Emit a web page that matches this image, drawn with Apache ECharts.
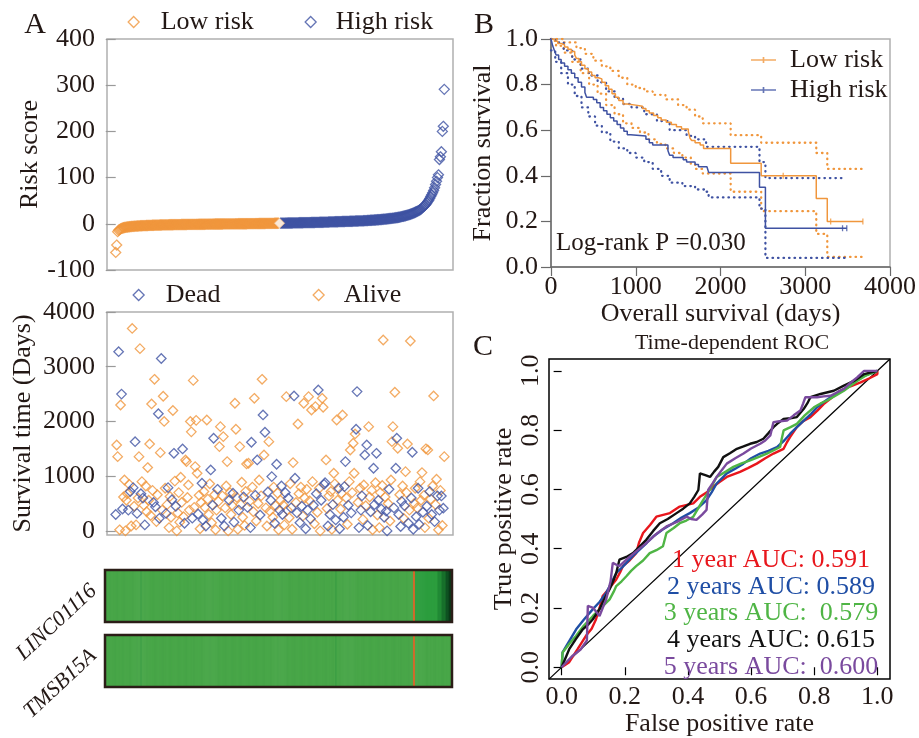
<!DOCTYPE html>
<html>
<head>
<meta charset="utf-8">
<script src="https://cdn.jsdelivr.net/npm/echarts@6/dist/echarts.min.js"></script>
<style>
html, body { margin: 0; padding: 0; background: #ffffff; }
#chart { width: 919px; height: 738px; }
</style>
</head>
<body>
<div id="chart"></div>
<script>
// ---------- data ----------
// Risk score of each patient, ranked from lowest to highest
const riskLow = [
  -62, -46, -17, -14, -12.5, -11, -10, -9.2, -8.6, -8, -7.6, -7.2, -6.9, -6.6, -6.3, -6.1, -5.9, -5.7, -5.5, -5.3,
  -5.1, -5.0, -4.8, -4.7, -4.6, -4.4, -4.3, -4.2, -4.1, -4.0, -3.9, -3.8, -3.7, -3.6, -3.5, -3.4, -3.4, -3.3, -3.2, -3.1,
  -3.0, -3.0, -2.9, -2.8, -2.8, -2.7, -2.6, -2.6, -2.5, -2.5, -2.4, -2.4, -2.3, -2.3, -2.2, -2.2, -2.1, -2.1, -2.0, -2.0,
  -1.9, -1.9, -1.9, -1.8, -1.8, -1.7, -1.7, -1.7, -1.6, -1.6, -1.6, -1.5, -1.5, -1.5, -1.4, -1.4, -1.4, -1.3, -1.3, -1.3,
  -1.2, -1.2, -1.2, -1.1, -1.1, -1.1, -1.0, -1.0, -1.0, -0.9, -0.9, -0.9, -0.9, -0.8, -0.8, -0.8, -0.7, -0.7, -0.7, -0.7,
  -0.6, -0.6, -0.6, -0.5, -0.5, -0.5, -0.5, -0.4, -0.4, -0.4, -0.4, -0.3, -0.3, -0.3, -0.3, -0.2, -0.2, -0.2, -0.2, -0.1,
  -0.1, -0.1, -0.1, 0.0, 0.0, 0.0, 0.0, 0.1, 0.1, 0.1, 0.1, 0.1, 0.2, 0.2, 0.2, 0.2, 0.3, 0.3, 0.3, 0.3,
  0.4, 0.4, 0.4, 0.4, 0.5, 0.5, 0.5, 0.5, 0.6, 0.6, 0.6, 0.6, 0.7, 0.7, 0.7, 0.8, 0.8, 0.8, 0.9, 0.9,
  0.9, 1.0, 1.0, 1.0, 1.1, 1.1, 1.2, 1.2, 1.3, 1.3
];
const riskHigh = [
  1.4, 1.4, 1.5, 1.5, 1.5, 1.6, 1.6, 1.6, 1.7, 1.7, 1.8, 1.8, 1.8, 1.9, 1.9, 2.0, 2.0, 2.0, 2.1, 2.1,
  2.2, 2.2, 2.3, 2.3, 2.4, 2.4, 2.5, 2.5, 2.6, 2.6, 2.7, 2.7, 2.8, 2.8, 2.9, 2.9, 3.0, 3.0, 3.1, 3.1,
  3.2, 3.3, 3.3, 3.4, 3.4, 3.5, 3.6, 3.6, 3.7, 3.8, 3.9,
  4.0, 4.1, 4.1, 4.2, 4.3, 4.3, 4.4, 4.5, 4.5, 4.6, 4.7, 4.7, 4.8, 4.9, 5.0, 5.0, 5.1, 5.2, 5.3, 5.3,
  5.4, 5.5, 5.6, 5.6, 5.7, 5.8, 5.9, 6.0, 6.0, 6.1, 6.2, 6.3, 6.3, 6.4, 6.5,
  6.6, 6.8, 6.9, 7.0, 7.2, 7.3, 7.4, 7.6, 7.7, 7.9, 8.0, 8.2, 8.3, 8.5, 8.7, 8.8, 9.0, 9.2, 9.4, 9.6,
  9.8, 10.0, 10.2, 10.4, 10.6, 10.9, 11.1, 11.4, 11.6, 11.9, 12.2, 12.4, 12.7, 13.0, 13.3,
  13.7, 14.1, 14.5, 15.0, 15.4, 15.9, 16.4, 17.0, 17.5, 18.1, 18.7, 19.4, 20.0, 20.7, 21.5, 22.3, 23.1, 24.0, 25.0, 26.0,
  27.0, 28.1, 29.2, 30.4,
  32, 34, 36, 38, 40, 42, 45, 48,
  51, 55, 59, 63, 67, 72, 78, 85, 92, 100,
  106, 139, 145, 156, 200, 211, 291
];

// Follow-up time (days) and vital status (1 = dead, 0 = alive), same patient order
const survivalDays = [
  300, 1570, 1357, 3275, 20, 2300, 2500, 400, 620, 930,
  0, 560, 680, 380, 850, 720, 90, 3700, 790, 450,
  1630, 110, 320, 600, 1357, 3330, 680, 900, 600, 470,
  110, 820, 350, 1157, 560, 1589, 280, 2320, 740, 520,
  2770, 440, 170, 660, 2140, 230, 1430, 3150, 380, 2460,
  2000, 780, 320, 480, 790, 60, 630, 250, 570, 2200,
  1418, 910, 450, 0, 330, 700, 160, 980, 520, 1498,
  260, 140, 1297, 1266, 610, 840, 380, 2000, 1810, 232,
  2750, 430, 1175, 2020, 1053, 310, 650, 40, 520, 870,
  200, 720, 430, 90, 2027, 580, 300, 860, 1114, 150,
  470, 1693, 660, 20, 380, 760, 540, 1540, 1905, 230,
  640, 1723, 90, 420, 820, 1266, 0, 560, 700, 300,
  470, 688, 160, 2332, 1857, 610, 30, 380, 1540, 480,
  890, 250, 620, 100, 720, 1224, 430, 1236, 540, 60,
  1620, 800, 350, 2423, 650, 180, 1297, 500, 930, 290,
  640, 2770, 2119, 1388, 1803, 420, 90, 710, 1631, 360,
  560, 992, 250, 800, 140, 460, 1218, 690, 20, 380,
  560, 820, 300, 470, 110, 700, 2453, 380, 600, 240,
  860, 420, 30, 1248, 2466, 962, 520, 330, 1954, 680,
  150, 800, 450, 270, 2332, 600, 40, 760, 380, 2453,
  550, 220, 2210, 900, 470, 130, 2271, 680, 340, 2575,
  780, 0, 560, 2423, 2259, 850, 880, 1297, 410, 90,
  640, 300, 720, 30, 480, 1053, 860, 200, 2027, 560,
  780, 40, 400, 690, 2119, 250, 809, 1266, 600, 120,
  470, 900, 1479, 330, 700, 1602, 1053, 1772, 1857, 2545,
  520, 60, 780, 380, 640, 210, 840, 1388, 460, 1571,
  100, 1905, 620, 350, 740, 20, 1145, 480, 880, 1418,
  290, 560, 60, 700, 400, 830, 3489, 250, 620, 360,
  0, 500, 760, 180, 930, 1631, 1905, 420, 2533, 1145,
  1693, 1510, 300, 660, 80, 540, 820, 230, 460, 1083,
  700, 1589, 140, 380, 3470, 600, 1437, 30, 500, 780,
  260, 420, 780, 120, 900, 560, 1065, 340, 650, 60,
  1500, 450, 1480, 230, 720, 580, 300, 820, 2466, 170,
  480, 944, 640, 20, 380, 740, 639, 100, 415, 1357
];
const vitalStatus = [
  1, 0, 0, 1, 0, 0, 1, 1, 0, 0,
  0, 0, 0, 1, 0, 1, 0, 0, 1, 0,
  1, 0, 1, 0, 0, 0, 1, 0, 1, 0,
  1, 0, 0, 0, 0, 0, 0, 0, 0, 1,
  0, 1, 0, 0, 1, 1, 0, 1, 0, 0,
  0, 0, 1, 0, 1, 0, 0, 0, 1, 0,
  1, 0, 1, 0, 0, 0, 0, 0, 0, 1,
  0, 1, 0, 0, 0, 0, 0, 0, 0, 1,
  0, 0, 0, 0, 0, 1, 0, 0, 0, 1,
  1, 0, 0, 1, 0, 0, 0, 0, 1, 0,
  1, 1, 0, 0, 0, 1, 0, 0, 0, 1,
  0, 0, 1, 0, 0, 0, 0, 1, 0, 0,
  0, 1, 1, 0, 0, 0, 0, 1, 0, 0,
  0, 0, 1, 0, 0, 0, 1, 0, 0, 1,
  1, 0, 0, 0, 1, 0, 1, 0, 0, 1,
  0, 0, 1, 0, 1, 0, 0, 1, 0, 0,
  1, 1, 0, 0, 1, 0, 1, 0, 0, 1,
  0, 1, 1, 0, 0, 1, 0, 0, 1, 0,
  0, 1, 0, 0, 1, 1, 0, 1, 0, 0,
  1, 0, 1, 0, 0, 0, 1, 0, 1, 0,
  0, 1, 0, 0, 1, 0, 0, 1, 0, 1,
  0, 0, 1, 0, 0, 1, 1, 0, 0, 1,
  0, 1, 0, 0, 1, 0, 0, 1, 0, 0,
  1, 1, 0, 0, 0, 1, 1, 1, 0, 0,
  1, 0, 0, 1, 0, 0, 0, 0, 1, 1,
  0, 1, 0, 1, 1, 0, 0, 1, 0, 1,
  1, 0, 0, 1, 0, 0, 1, 1, 0, 1,
  0, 1, 0, 0, 1, 0, 0, 1, 0, 1,
  1, 0, 1, 0, 0, 0, 0, 1, 0, 1,
  1, 0, 1, 0, 1, 1, 0, 0, 1, 0,
  0, 0, 1, 0, 0, 1, 1, 1, 0, 0,
  1, 0, 1, 1, 0, 0, 0, 1, 0, 0,
  0, 1, 0, 0, 1, 0, 1, 0, 0, 1,
  0, 0, 1, 0, 1, 0, 1, 0, 1, 0
];

// Expression level bins per patient (same order), 10 marks the outlier column
const geneNames = ['LINC01116', 'TMSB15A'];
const linc01116Level = [
  3,2,2,3,2,2,1,2,2,2,3,2,2,2,1,2,2,3,2,2,
  2,2,1,2,2,2,3,2,2,2,2,2,1,2,4,2,2,2,3,2,
  2,1,2,2,2,2,3,2,2,2,1,2,2,2,2,3,2,2,1,2,
  2,2,2,3,2,2,2,1,2,2,2,2,3,2,2,1,2,2,2,2,
  3,2,2,2,2,1,2,2,3,2,2,2,2,2,1,2,2,3,2,2,
  2,1,2,2,2,3,2,2,2,2,1,2,2,2,3,2,2,2,1,2,
  2,2,3,2,2,1,2,2,2,2,3,2,2,2,2,1,2,2,3,2,
  2,2,2,1,2,2,3,2,2,2,2,2,1,2,2,3,2,2,2,2,
  1,2,2,2,3,2,2,2,2,1,2,2,2,3,2,2,2,2,1,2,
  2,3,2,2,2,2,1,2,2,2,3,2,2,2,2,1,2,2,3,2,
  2,2,1,2,2,3,2,2,2,2,1,2,2,2,3,2,2,1,2,2,
  2,2,3,2,2,2,4,2,2,1,2,2,2,3,2,2,2,1,2,2,
  3,2,2,2,1,2,2,2,3,2,2,2,2,1,2,2,3,2,2,2,
  2,1,2,2,3,2,2,2,2,1,2,2,3,2,2,2,2,1,2,2,
  3,2,2,2,1,2,2,3,2,2,2,2,1,2,2,2,3,2,2,2,
  1,2,2,10,5,5,5,5,5,5,5,5,5,5,5,5,5,5,5,5,
  5,5,5,5,5,5,5,6,6,6,6,7,7,7,7,8,8,8,9,9
];
const tmsb15aLevel = [
  2,2,3,2,2,1,2,2,3,2,2,2,1,2,2,2,3,2,2,1,
  2,2,2,3,2,2,1,2,2,2,3,2,2,2,4,2,1,2,2,2,
  3,2,2,2,1,2,2,2,3,2,2,1,2,2,2,3,2,2,2,2,
  1,2,2,3,2,2,2,2,1,2,2,3,2,2,2,1,2,2,3,2,
  2,2,1,2,2,2,3,2,2,2,2,1,2,2,3,2,2,2,2,1,
  2,2,3,2,2,2,1,2,2,2,3,2,2,1,2,2,2,3,2,2,
  2,1,2,2,3,2,2,2,2,1,2,2,3,2,2,2,1,2,2,2,
  3,2,2,1,2,2,2,3,2,2,2,2,1,2,2,3,2,2,2,1,
  2,2,3,2,2,2,1,2,2,3,2,2,2,2,1,2,2,2,3,2,
  2,1,2,2,2,3,2,2,2,1,2,2,3,2,2,2,2,1,2,2,
  3,2,2,2,1,2,2,3,2,2,2,2,1,2,2,2,3,2,2,1,
  2,2,2,3,2,2,4,1,2,2,3,2,2,2,1,2,2,2,3,2,
  2,2,1,2,2,3,2,2,2,2,1,2,2,3,2,2,2,1,2,2,
  3,2,2,2,1,2,2,2,3,2,2,1,2,2,2,3,2,2,2,2,
  1,2,2,3,2,2,2,1,2,2,3,2,2,2,2,1,2,2,3,2,
  2,2,1,10,2,1,2,2,3,2,1,2,2,1,2,2,3,2,1,2,
  2,1,2,2,3,2,1,2,2,1,2,3,2,2,1,2,2,1,2,2
];

// Kaplan-Meier estimates [days, survival] with 95% confidence bands
const kmLow = [[0,1.0],[40,0.99],[80,0.98],[120,0.975],[160,0.965],[200,0.955],[240,0.945],[280,0.93],[300,0.915],[330,0.9],[360,0.885],[400,0.87],[440,0.855],[480,0.84],[520,0.83],[560,0.825],[600,0.81],[640,0.795],[680,0.78],[720,0.76],[760,0.745],[800,0.73],[850,0.715],[900,0.71],[1000,0.705],[1080,0.695],[1120,0.685],[1160,0.675],[1210,0.665],[1260,0.655],[1300,0.645],[1360,0.635],[1420,0.625],[1480,0.615],[1540,0.605],[1620,0.595],[1640,0.565],[1660,0.555],[1700,0.545],[1760,0.535],[1800,0.52],[2120,0.455],[2480,0.40],[3130,0.30],[3260,0.20],[3680,0.20]];
const kmLowUpper = [[0,1.0],[150,0.985],[300,0.96],[400,0.935],[500,0.905],[600,0.88],[700,0.86],[800,0.83],[900,0.80],[1000,0.785],[1100,0.77],[1200,0.755],[1350,0.735],[1500,0.71],[1600,0.69],[1700,0.66],[1790,0.63],[2120,0.578],[2480,0.545],[3130,0.50],[3260,0.43],[3680,0.43]];
const kmLowLower = [[0,1.0],[60,0.97],[150,0.94],[250,0.9],[350,0.85],[450,0.8],[550,0.76],[650,0.71],[750,0.67],[850,0.63],[950,0.61],[1050,0.59],[1150,0.56],[1250,0.54],[1350,0.52],[1450,0.5],[1550,0.48],[1650,0.45],[1700,0.43],[1790,0.41],[2120,0.33],[2480,0.245],[3130,0.145],[3260,0.044],[3680,0.044]];
const kmHigh = [[0,1.0],[20,0.97],[40,0.95],[60,0.93],[90,0.91],[120,0.895],[160,0.88],[200,0.865],[240,0.85],[280,0.83],[320,0.81],[360,0.79],[400,0.765],[420,0.745],[500,0.735],[540,0.72],[580,0.70],[620,0.685],[660,0.67],[700,0.655],[740,0.64],[780,0.625],[820,0.61],[860,0.595],[900,0.58],[940,0.575],[1120,0.56],[1160,0.545],[1200,0.535],[1380,0.51],[1400,0.49],[1440,0.48],[1560,0.47],[1600,0.46],[1700,0.45],[1740,0.44],[1840,0.435],[1860,0.415],[2460,0.35],[2530,0.17],[3490,0.17]];
const kmHighUpper = [[0,1.0],[50,0.985],[150,0.95],[250,0.91],[350,0.87],[450,0.84],[550,0.81],[650,0.77],[750,0.74],[850,0.715],[950,0.70],[1100,0.67],[1250,0.64],[1400,0.60],[1600,0.575],[1700,0.56],[1830,0.527],[2460,0.46],[2530,0.39],[3430,0.39]];
const kmHighLower = [[0,0.95],[50,0.9],[120,0.85],[200,0.8],[280,0.75],[360,0.7],[440,0.66],[520,0.62],[600,0.59],[700,0.55],[800,0.52],[900,0.5],[1000,0.48],[1100,0.46],[1200,0.43],[1300,0.4],[1400,0.37],[1550,0.355],[1700,0.34],[1830,0.33],[1860,0.305],[2460,0.256],[2530,0.04],[3480,0.04]];
const kmLowCensor = [[2740,0.40],[3300,0.20],[3680,0.20]];
const kmHighCensor = [[3440,0.17],[3490,0.17]];
const logRankText = 'Log-rank P =0.030';

// Time-dependent ROC curves [false positive rate, true positive rate]
const roc1Year = [[0,0],[0.024,0.017],[0.05,0.06],[0.077,0.106],[0.095,0.13],[0.109,0.162],[0.12,0.2],[0.13,0.24],[0.15,0.265],[0.173,0.296],[0.185,0.32],[0.194,0.341],[0.215,0.36],[0.236,0.385],[0.245,0.42],[0.258,0.453],[0.28,0.48],[0.3,0.508],[0.343,0.52],[0.374,0.542],[0.417,0.553],[0.438,0.575],[0.46,0.59],[0.48,0.609],[0.5,0.625],[0.523,0.642],[0.565,0.659],[0.59,0.672],[0.618,0.687],[0.645,0.705],[0.671,0.721],[0.703,0.737],[0.714,0.76],[0.724,0.777],[0.745,0.81],[0.765,0.83],[0.788,0.844],[0.81,0.866],[0.83,0.888],[0.856,0.91],[0.883,0.933],[0.915,0.948],[0.947,0.961],[0.975,0.975],[1,0.989],[1,1]];
const roc2Years = [[0,0],[0.003,0.05],[0.025,0.09],[0.046,0.128],[0.07,0.16],[0.099,0.196],[0.12,0.22],[0.141,0.251],[0.16,0.29],[0.173,0.318],[0.19,0.335],[0.205,0.352],[0.225,0.375],[0.247,0.397],[0.27,0.42],[0.29,0.441],[0.32,0.465],[0.353,0.486],[0.38,0.505],[0.406,0.52],[0.435,0.54],[0.459,0.564],[0.475,0.59],[0.491,0.62],[0.523,0.654],[0.55,0.67],[0.576,0.687],[0.6,0.705],[0.629,0.721],[0.655,0.73],[0.682,0.743],[0.705,0.765],[0.724,0.788],[0.745,0.81],[0.767,0.832],[0.79,0.855],[0.809,0.877],[0.83,0.895],[0.852,0.911],[0.88,0.93],[0.904,0.944],[0.925,0.96],[0.947,0.978],[0.975,0.99],[1,1]];
const roc3Years = [[0,0],[0.003,0.05],[0.025,0.08],[0.046,0.106],[0.07,0.14],[0.099,0.173],[0.125,0.2],[0.152,0.229],[0.165,0.255],[0.173,0.274],[0.19,0.29],[0.205,0.307],[0.22,0.325],[0.236,0.341],[0.258,0.36],[0.279,0.385],[0.3,0.395],[0.321,0.408],[0.332,0.453],[0.355,0.47],[0.374,0.486],[0.395,0.495],[0.417,0.508],[0.432,0.535],[0.448,0.564],[0.47,0.6],[0.491,0.642],[0.52,0.66],[0.544,0.676],[0.57,0.688],[0.597,0.698],[0.625,0.71],[0.65,0.721],[0.672,0.732],[0.692,0.743],[0.697,0.77],[0.703,0.799],[0.725,0.81],[0.745,0.821],[0.77,0.85],[0.799,0.877],[0.82,0.89],[0.841,0.9],[0.87,0.918],[0.894,0.933],[0.915,0.95],[0.936,0.966],[0.965,0.985],[1,1]];
const roc4Years = [[0,0],[0.024,0.061],[0.045,0.095],[0.067,0.128],[0.085,0.145],[0.099,0.162],[0.12,0.196],[0.135,0.23],[0.152,0.263],[0.163,0.29],[0.173,0.318],[0.183,0.363],[0.205,0.372],[0.226,0.385],[0.245,0.405],[0.268,0.43],[0.29,0.46],[0.311,0.486],[0.336,0.5],[0.364,0.52],[0.385,0.535],[0.406,0.553],[0.42,0.575],[0.433,0.598],[0.436,0.63],[0.438,0.654],[0.455,0.648],[0.47,0.642],[0.483,0.66],[0.496,0.676],[0.512,0.709],[0.533,0.722],[0.555,0.737],[0.576,0.745],[0.597,0.754],[0.618,0.76],[0.639,0.771],[0.655,0.79],[0.671,0.81],[0.687,0.825],[0.703,0.838],[0.724,0.84],[0.745,0.844],[0.767,0.872],[0.778,0.89],[0.788,0.911],[0.82,0.922],[0.862,0.933],[0.894,0.95],[0.926,0.966],[0.958,0.989],[0.98,0.995],[1,1]];
const roc5Years = [[0,0],[0.035,0.039],[0.06,0.06],[0.08,0.09],[0.083,0.207],[0.1,0.2],[0.12,0.173],[0.13,0.2],[0.141,0.229],[0.155,0.29],[0.162,0.352],[0.175,0.345],[0.183,0.341],[0.205,0.363],[0.235,0.39],[0.268,0.419],[0.3,0.45],[0.332,0.475],[0.365,0.49],[0.396,0.508],[0.41,0.5],[0.427,0.497],[0.445,0.515],[0.459,0.531],[0.464,0.598],[0.478,0.62],[0.491,0.642],[0.507,0.665],[0.523,0.687],[0.55,0.705],[0.576,0.721],[0.6,0.738],[0.629,0.754],[0.645,0.765],[0.661,0.782],[0.666,0.805],[0.671,0.827],[0.69,0.83],[0.714,0.832],[0.735,0.85],[0.756,0.866],[0.765,0.89],[0.772,0.911],[0.79,0.911],[0.809,0.911],[0.83,0.914],[0.852,0.916],[0.873,0.928],[0.894,0.939],[0.915,0.96],[0.936,0.978],[0.958,1.0],[1,1]];
const rocLabels = ['1 year AUC: 0.591', '2 years AUC: 0.589', '3 years AUC:  0.579', '4 years AUC: 0.615', '5 years AUC:  0.600'];

// Tick labels
const survivalTicks = [0, 1000, 2000, 3000, 4000];
const rateTicks = [0, 0.2, 0.4, 0.6, 0.8, 1.0];

// ---------- styles ----------
const FONT = 'Liberation Serif';
const INK = '#231815';
const ORANGE = '#f0963c';
const BLUE = '#3f52a2';
const ROC_COLORS = ['#e8161c', '#1f4ea5', '#4fb545', '#111111', '#7a4a9e'];
const LEVEL_COLORS = {
  1: '#4ba94b', 2: '#48a648', 3: '#46a447', 4: '#3d9f44', 5: '#2c9d3e',
  6: '#218a35', 7: '#17702b', 8: '#0f5222', 9: '#0a3a18', 10: '#cf6a2c'
};
const txt = (size, extra) => Object.assign({ fontFamily: FONT, fontSize: size, color: INK }, extra || {});
const plain = v => String(v);

const nPatients = riskLow.length + riskHigh.length;
const patientIdx = [];
for (let i = 0; i < nPatients; i++) patientIdx.push(i);

// ---------- grids ----------
const grids = [
  { left: 107, top: 39, width: 346, height: 231, show: true, borderColor: '#b0b0b0', borderWidth: 1.5 },  // risk score
  { left: 107, top: 312, width: 346, height: 223, show: true, borderColor: '#b0b0b0', borderWidth: 1.5 }, // survival status
  { left: 106, top: 571, width: 345, height: 50 },  // LINC01116
  { left: 106, top: 636, width: 345, height: 50 },  // TMSB15A
  { left: 551, top: 39, width: 341, height: 228, show: true, borderColor: '#b0b0b0', borderWidth: 1.5 },  // KM
  { left: 549, top: 359, width: 341, height: 321, show: true, borderColor: '#000', borderWidth: 1.5 }    // ROC
];

const grayTick = { show: true, length: 10, lineStyle: { color: '#9a9a9a', width: 1.2 } };

const xAxes = [
  { gridIndex: 0, type: 'value', min: -9, max: 348, show: false, splitLine: { show: false } },
  { gridIndex: 1, type: 'value', min: -9, max: 348, show: false, splitLine: { show: false } },
  { gridIndex: 2, type: 'category', data: patientIdx, show: false },
  { gridIndex: 3, type: 'category', data: patientIdx, show: false },
  {
    gridIndex: 4, type: 'value', min: 0, max: 4000, interval: 1000,
    axisLine: { show: true, lineStyle: { color: '#6a6a6a', width: 1.5 } },
    axisTick: { show: true, length: 9, lineStyle: { color: '#6a6a6a', width: 1.2 } },
    axisLabel: txt(26, { margin: 7, formatter: plain }),
    splitLine: { show: false },
    name: 'Overall survival (days)', nameLocation: 'middle', nameGap: 12, nameTextStyle: txt(26)
  },
  {
    gridIndex: 5, type: 'value', min: -0.04, max: 1.04,
    axisLine: { show: false },
    axisTick: { show: true, length: 8, customValues: rateTicks, lineStyle: { color: '#000', width: 1.2 } },
    axisLabel: txt(26, { margin: 5, customValues: rateTicks, formatter: v => v.toFixed(1) }),
    splitLine: { show: false },
    name: 'False positive rate', nameLocation: 'middle', nameGap: 30, nameTextStyle: txt(26)
  }
];

const geneLabel = txt(22, { rotate: 43, fontStyle: 'italic', margin: 5, verticalAlign: 'bottom' });
const yAxes = [
  {
    gridIndex: 0, type: 'value', min: -100, max: 400, interval: 100,
    axisLine: { show: false }, axisTick: grayTick,
    axisLabel: txt(26, { margin: 12, formatter: plain }), splitLine: { show: false },
    name: 'Risk score', nameLocation: 'middle', nameGap: 57, nameTextStyle: txt(26)
  },
  {
    gridIndex: 1, type: 'value', min: -75, max: 4000,
    axisLine: { show: false },
    axisTick: Object.assign({ customValues: survivalTicks }, grayTick),
    axisLabel: txt(26, { margin: 12, customValues: survivalTicks, formatter: plain }), splitLine: { show: false },
    name: 'Survival time (Days)', nameLocation: 'middle', nameGap: 71, nameTextStyle: txt(26)
  },
  {
    gridIndex: 2, type: 'category', data: [geneNames[0]],
    axisLine: { show: false }, axisTick: { show: false }, axisLabel: geneLabel
  },
  {
    gridIndex: 3, type: 'category', data: [geneNames[1]],
    axisLine: { show: false }, axisTick: { show: false }, axisLabel: geneLabel
  },
  {
    gridIndex: 4, type: 'value', min: 0, max: 1, interval: 0.2,
    axisLine: { show: true, lineStyle: { color: '#6a6a6a', width: 1.5 } },
    axisTick: { show: true, length: 10, lineStyle: { color: '#6a6a6a', width: 1.2 } },
    axisLabel: txt(26, { margin: 13, formatter: v => v.toFixed(1) }),
    splitLine: { show: false },
    name: 'Fraction survival', nameLocation: 'middle', nameGap: 55, nameTextStyle: txt(26)
  },
  {
    gridIndex: 5, type: 'value', min: -0.04, max: 1.04,
    axisLine: { show: false },
    axisTick: { show: true, length: 8, customValues: rateTicks, lineStyle: { color: '#000', width: 1.2 } },
    axisLabel: txt(26, { margin: 5, rotate: 90, customValues: rateTicks, formatter: v => v.toFixed(1) }),
    splitLine: { show: false },
    name: 'True positive rate', nameLocation: 'middle', nameGap: 31, nameTextStyle: txt(26)
  }
];

// ---------- series ----------
const hollow = color => ({ color: 'rgba(255,255,255,0)', borderColor: color, borderWidth: 1.3 });
const series = [];

const lowRiskPoints = riskLow.map((v, i) => [i, v]);
const lastLow = lowRiskPoints.length - 1;
lowRiskPoints[lastLow] = { value: lowRiskPoints[lastLow], itemStyle: { color: '#ffffff', borderColor: '#f6c79a', borderWidth: 1 } };

series.push({
  name: 'Low risk', type: 'scatter', xAxisIndex: 0, yAxisIndex: 0,
  symbol: 'diamond', symbolSize: 10, itemStyle: hollow(ORANGE), data: lowRiskPoints, z: 3
});
series.push({
  name: 'High risk', type: 'scatter', xAxisIndex: 0, yAxisIndex: 0,
  symbol: 'diamond', symbolSize: 10, itemStyle: hollow(BLUE),
  data: riskHigh.map((v, i) => [i + riskLow.length, v]), z: 2
});

const deadPts = [], alivePts = [];
survivalDays.forEach((d, i) => { (vitalStatus[i] === 1 ? deadPts : alivePts).push([i, d]); });
series.push({
  name: 'Alive', type: 'scatter', xAxisIndex: 1, yAxisIndex: 1,
  symbol: 'diamond', symbolSize: 9.5, itemStyle: hollow(ORANGE), data: alivePts
});
series.push({
  name: 'Dead', type: 'scatter', xAxisIndex: 1, yAxisIndex: 1,
  symbol: 'diamond', symbolSize: 9.5, itemStyle: hollow(BLUE), data: deadPts
});

// Expression strips: one cell per patient, slightly widened so neighbours meet without seams;
// higher levels are stacked on top so single outlier columns stay visible
const stripRenderer = (params, api) => {
  const c = api.coord([api.value(0), api.value(1)]);
  const s = api.size([1, 1]);
  const level = api.value(2);
  const pad = level >= 10 ? 0.5 : 0.35;
  return {
    type: 'rect', z2: level,
    shape: { x: c[0] - s[0] / 2 - pad, y: c[1] - s[1] / 2, width: s[0] + 2 * pad, height: s[1] },
    style: { fill: api.visual('color') }
  };
};
const heatStart = series.length;
series.push({
  name: geneNames[0], type: 'custom', xAxisIndex: 2, yAxisIndex: 2, renderItem: stripRenderer,
  encode: { x: 0, y: 1 }, data: linc01116Level.map((v, i) => [i, 0, v])
});
series.push({
  name: geneNames[1], type: 'custom', xAxisIndex: 3, yAxisIndex: 3, renderItem: stripRenderer,
  encode: { x: 0, y: 1 }, data: tmsb15aLevel.map((v, i) => [i, 0, v])
});

const kmLine = (name, data, color, dotted) => ({
  name, type: 'line', xAxisIndex: 4, yAxisIndex: 4, step: 'end', data,
  showSymbol: false, symbol: 'none', silent: true,
  lineStyle: dotted ? { color, width: 2.3, type: [0.5, 5], cap: 'round' } : { color, width: 1.5 },
  z: dotted ? 2 : 3
});
series.push(kmLine('Low risk CI upper', kmLowUpper, ORANGE, true));
series.push(kmLine('Low risk CI lower', kmLowLower, ORANGE, true));
series.push(kmLine('High risk CI upper', kmHighUpper, BLUE, true));
series.push(kmLine('High risk CI lower', kmHighLower, BLUE, true));
series.push(kmLine('Low risk', kmLow, ORANGE, false));
series.push(kmLine('High risk', kmHigh, BLUE, false));
series.push({
  name: 'Low risk censored', type: 'scatter', xAxisIndex: 4, yAxisIndex: 4,
  symbol: 'rect', symbolSize: [1.3, 6], itemStyle: { color: ORANGE }, data: kmLowCensor
});
series.push({
  name: 'High risk censored', type: 'scatter', xAxisIndex: 4, yAxisIndex: 4,
  symbol: 'rect', symbolSize: [1.3, 6], itemStyle: { color: BLUE }, data: kmHighCensor
});

series.push({
  name: 'Reference', type: 'line', xAxisIndex: 5, yAxisIndex: 5,
  data: [[-0.04, -0.04], [1.04, 1.04]], showSymbol: false, symbol: 'none',
  lineStyle: { color: '#000', width: 1.3 }, z: 2
});
[roc1Year, roc2Years, roc3Years, roc4Years, roc5Years].forEach((curve, k) => {
  series.push({
    name: rocLabels[k], type: 'line', xAxisIndex: 5, yAxisIndex: 5, data: curve,
    showSymbol: false, symbol: 'none', lineStyle: { color: ROC_COLORS[k], width: 2.4 }, z: 3 + k
  });
});

// ---------- legends ----------
const diamondLegend = (name, left, top, color, gap) => ({
  selectedMode: false, left, top, padding: 0, itemWidth: 11, itemHeight: 11,
  textStyle: txt(26, { padding: [0, 0, 0, gap] }),
  data: [{ name, icon: 'diamond', itemStyle: { color: 'rgba(255,255,255,0)', borderColor: color, borderWidth: 1.3 } }]
});
const KM_ICON = 'path://M0,4.2H24V5.8H0Z M11.2,2.2H12.8V7.8H11.2Z';
const legends = [
  diamondLegend('Low risk', 127.5, 9, ORANGE, 16.5),
  diamondLegend('High risk', 304.5, 9, BLUE, 14.5),
  diamondLegend('Dead', 132.5, 282, BLUE, 16.5),
  diamondLegend('Alive', 312.5, 282, ORANGE, 14.5),
  {
    selectedMode: false, orient: 'vertical', left: 751, top: 47, padding: 0,
    itemWidth: 25, itemHeight: 6, itemGap: 4,
    textStyle: txt(26, { padding: [0, 0, 0, 9], lineHeight: 26 }),
    data: [
      { name: 'Low risk', icon: KM_ICON, itemStyle: { color: ORANGE, borderWidth: 0 } },
      { name: 'High risk', icon: KM_ICON, itemStyle: { color: BLUE, borderWidth: 0 } }
    ]
  }
];

// ---------- free text and frames ----------
const label = (text, x, y, size, extra) => ({
  type: 'text', x, y, z: 100,
  style: Object.assign({ text, fontFamily: FONT, fontSize: size, fill: INK, textAlign: 'center', textVerticalAlign: 'middle' }, extra || {})
});
const graphics = [
  label('A', 35, 25, 30),
  label('B', 484, 25, 30),
  label('C', 483, 347, 30),
  label('Time-dependent ROC', 732, 343, 22),
  label(logRankText, 556, 243, 25, { textAlign: 'left' }),
  { type: 'rect', z: 100, shape: { x: 105, y: 570, width: 347, height: 52 }, style: { fill: 'none', stroke: '#2b1d17', lineWidth: 2.5 } },
  { type: 'rect', z: 100, shape: { x: 105, y: 635, width: 347, height: 52 }, style: { fill: 'none', stroke: '#2b1d17', lineWidth: 2.5 } }
];
rocLabels.forEach((t, k) => {
  graphics.push(label(t, 771, 560 + k * 26.8, 26, { fill: ROC_COLORS[k] }));
});

const chart = echarts.init(document.getElementById('chart'), null, { renderer: 'canvas' });
chart.setOption({
  animation: false,
  backgroundColor: '#ffffff',
  textStyle: { fontFamily: FONT },
  grid: grids,
  xAxis: xAxes,
  yAxis: yAxes,
  legend: legends,
  visualMap: {
    type: 'piecewise', show: false, dimension: 2,
    seriesIndex: [heatStart, heatStart + 1],
    pieces: Object.keys(LEVEL_COLORS).map(k => ({ value: Number(k), color: LEVEL_COLORS[k] }))
  },
  series,
  graphic: graphics
});
</script>
</body>
</html>
